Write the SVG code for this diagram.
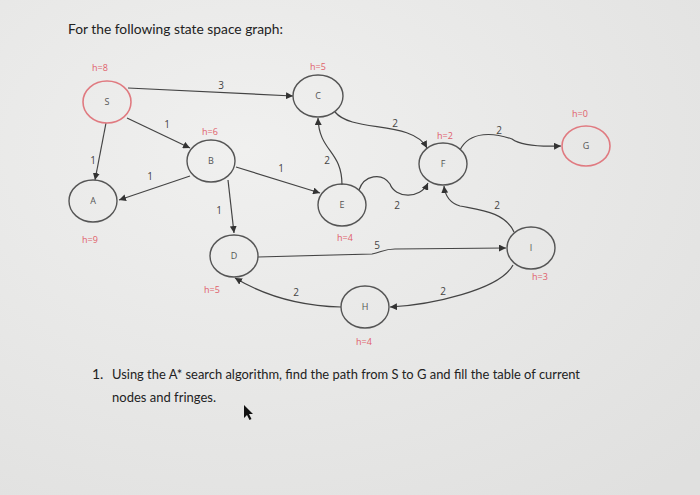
<svg xmlns="http://www.w3.org/2000/svg" width="700" height="495" viewBox="0 0 700 495">
<defs>
<marker id="ah" viewBox="0 0 10 10" refX="10" refY="5" markerWidth="7" markerHeight="7" orient="auto" markerUnits="userSpaceOnUse"><path d="M0,0 L10,5 L0,10 z" fill="#333"/></marker>
<radialGradient id="bg" cx="0.35" cy="0.3" r="0.9"><stop offset="0" stop-color="#f0f0ef"/><stop offset="1" stop-color="#e0e0df"/></radialGradient>
</defs>
<style>
.n ellipse{fill:none;stroke:#555;stroke-width:1.4}
.n.red ellipse{stroke:#e07a80;stroke-width:1.6}
.n text{font-family:"Open Sans","Liberation Sans",sans-serif;font-size:9px;fill:#555;text-anchor:middle}
.h{font-family:"Open Sans","Liberation Sans",sans-serif;font-size:9px;fill:#e0606a;text-anchor:middle}
.e path{fill:none;stroke:#444;stroke-width:1.2;marker-end:url(#ah)}
.w{font-family:"Open Sans","Liberation Sans",sans-serif;font-size:10px;fill:#444;text-anchor:middle}
.t{font-family:Lato,"Open Sans","Liberation Sans",sans-serif;fill:#222}
</style>
<rect width="700" height="495" fill="url(#bg)"/>
<text class="t" x="68" y="34" font-size="14" textLength="215" lengthAdjust="spacingAndGlyphs">For the following state space graph:</text>

<g id="connectors" class="e">
<path d="M128,88 L293,96"/>
<path d="M127,118 L190,148"/>
<path d="M106,123 L95,180"/>
<path d="M190,176 L119,200"/>
<path d="M228,180 L234,233"/>
<path d="M236,167 L320,193"/>
<path d="M342,185 C342,150 319,152 318,118"/>
<path d="M335,112 C352,133 412,120 427,148"/>
<path d="M359,190 C364,175 382,172 390,184 C395,198 420,200 428,183"/>
<path d="M460,150 C470,130 495,133 512,139 C520,145 535,147 561,146"/>
<path d="M514,232 C505,212 480,210 460,206 C450,203 445,195 444,186"/>
<path d="M258,257 L372,254 C382,252 384,249 395,249 L506,248"/>
<path d="M513,265 C500,290 430,305 390,307"/>
<path d="M341,307 C300,306 265,296 235,278"/>
</g>
<g id="edge-labels">
<text class="w" x="221" y="89">3</text>
<text class="w" x="167" y="128">1</text>
<text class="w" x="93" y="164">1</text>
<text class="w" x="150" y="180">1</text>
<text class="w" x="219" y="214">1</text>
<text class="w" x="281" y="172">1</text>
<text class="w" x="327" y="164">2</text>
<text class="w" x="395" y="127">2</text>
<text class="w" x="397" y="209">2</text>
<text class="w" x="499" y="134">2</text>
<text class="w" x="497" y="209">2</text>
<text class="w" x="377" y="249">5</text>
<text class="w" x="443" y="295">2</text>
<text class="w" x="296" y="296">2</text>
</g>

<g id="node-S" class="n red"><ellipse cx="107" cy="102" rx="24" ry="21"/><text x="107" y="105">S</text></g>
<text class="h" x="100" y="71">h=8</text>
<g id="node-C" class="n"><ellipse cx="318" cy="96" rx="25" ry="21"/><text x="318" y="99">C</text></g>
<text class="h" x="318" y="70">h=5</text>
<g id="node-B" class="n"><ellipse cx="211" cy="161" rx="24" ry="21"/><text x="211" y="164">B</text></g>
<text class="h" x="210" y="135">h=6</text>
<g id="node-A" class="n"><ellipse cx="93" cy="201" rx="24" ry="21"/><text x="93" y="204">A</text></g>
<text class="h" x="90" y="243">h=9</text>
<g id="node-D" class="n"><ellipse cx="234" cy="256" rx="24" ry="21"/><text x="234" y="259">D</text></g>
<text class="h" x="212" y="293">h=5</text>
<g id="node-E" class="n"><ellipse cx="342" cy="205" rx="24" ry="21"/><text x="342" y="208">E</text></g>
<text class="h" x="345" y="241">h=4</text>
<g id="node-F" class="n"><ellipse cx="443" cy="164" rx="24" ry="21"/><text x="443" y="167">F</text></g>
<text class="h" x="445" y="139">h=2</text>
<g id="node-G" class="n red"><ellipse cx="586" cy="146" rx="24" ry="20"/><text x="586" y="149">G</text></g>
<text class="h" x="580" y="117">h=0</text>
<g id="node-I" class="n"><ellipse cx="531" cy="248" rx="24" ry="21"/><text x="531" y="251">I</text></g>
<text class="h" x="540" y="280">h=3</text>
<g id="node-H" class="n"><ellipse cx="365" cy="307" rx="24" ry="21"/><text x="365" y="310">H</text></g>
<text class="h" x="364" y="345">h=4</text>

<text class="t" x="92" y="379" font-size="14">1.</text>
<text class="t" x="112" y="379" font-size="14" textLength="468" lengthAdjust="spacingAndGlyphs">Using the A* search algorithm, find the path from S to G and fill the table of current</text>
<text class="t" x="112" y="402" font-size="14" textLength="104" lengthAdjust="spacingAndGlyphs">nodes and fringes.</text>
<path d="M244,405 L244,418 L247,415 L249.5,420 L251.5,419 L249,414 L253,414 z" fill="#111"/>
</svg>
